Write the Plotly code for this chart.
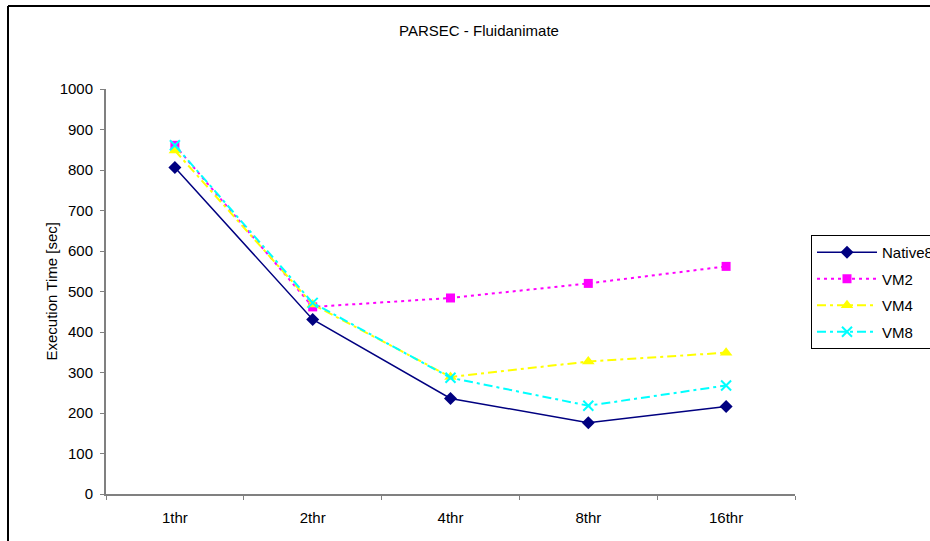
import plotly.graph_objects as go

# Thread counts on the x axis and execution times (seconds) per configuration
threads = ["1thr", "2thr", "4thr", "8thr", "16thr"]
native8 = [806, 431, 236, 176, 216]
vm2 = [861, 462, 484, 520, 562]
vm4 = [848, 468, 289, 327, 349]
vm8 = [861, 472, 287, 218, 268]

W, H = 930, 541
FONT = "Liberation Sans, Arial, sans-serif"

series = [
    ("Native8", native8, "#000080", "solid", "diamond", 10, 1.5),
    ("VM2", vm2, "#FF00FF", "3px,4px", "square", 9, 2),
    ("VM4", vm4, "#FFFF00", "9px,4px,3px,4px", "triangle-up", 11, 2),
    ("VM8", vm8, "#00FFFF", "9px,4px,3px,4px", "x-thin", 10, 2),
]

fig = go.Figure()
for name, vals, color, dash, symbol, msize, lw in series:
    marker = dict(symbol=symbol, size=msize, color=color)
    if symbol == "x-thin":
        marker["line"] = dict(color=color, width=2)
    fig.add_trace(go.Scatter(
        x=threads, y=vals, name=name, mode="lines+markers",
        line=dict(color=color, width=lw, dash=dash),
        marker=marker, legendgroup=name,
    ))

# plot area in pixels
x0, x1 = 106, 795
y_top, y_bot = 89, 494

fig.update_layout(
    width=W, height=H,
    margin=dict(l=0, r=0, t=0, b=0, autoexpand=False),
    paper_bgcolor="white", plot_bgcolor="white",
    font=dict(family=FONT, size=15, color="black"),
    title=dict(text="PARSEC - Fluidanimate", x=479 / W, xanchor="center",
               y=1 - 31 / H, yanchor="middle", font=dict(size=15)),
    xaxis=dict(domain=[x0 / W, x1 / W], type="category", range=[-0.5, 4.5],
               tickson="boundaries", ticks="outside", ticklen=4,
               tickcolor="#808080", showline=True, linecolor="#808080",
               linewidth=2, showgrid=False, zeroline=False,
               ticklabelstandoff=9, automargin=False,
               tickfont=dict(size=15)),
    yaxis=dict(domain=[1 - y_bot / H, 1 - y_top / H], range=[0, 1000],
               dtick=100, ticks="outside", ticklen=4, tickcolor="#808080",
               showline=True, linecolor="#808080", linewidth=2,
               showgrid=False, zeroline=False, ticklabelstandoff=4,
               automargin=False, tickfont=dict(size=15)),
    legend=dict(x=811 / W, xanchor="left", y=1 - 235 / H, yanchor="top",
                bordercolor="#000000", borderwidth=1, bgcolor="white",
                tracegroupgap=4, itemwidth=60, font=dict(size=15)),
    showlegend=True,
)

fig.add_annotation(text="Execution Time [sec]", textangle=-90,
                   x=40 / W, y=1 - 292 / H, xref="paper", yref="paper",
                   showarrow=False, font=dict(size=15))

# chart frame (left and top edges; the rest runs off the page)
fig.add_shape(type="line", xref="paper", yref="paper",
              x0=8 / W, x1=8 / W, y0=-0.1, y1=1 - 6 / H,
              line=dict(color="black", width=2), layer="below")
fig.add_shape(type="line", xref="paper", yref="paper",
              x0=8 / W, x1=1.1, y0=1 - 6 / H, y1=1 - 6 / H,
              line=dict(color="black", width=2), layer="below")

fig.write_html("out.html")
